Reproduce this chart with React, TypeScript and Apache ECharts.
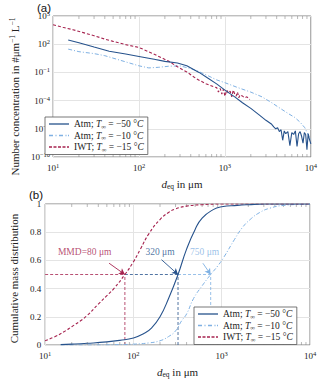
import React, { useEffect, useRef } from 'react';
import * as echarts from 'echarts';

const SERIF = '"Liberation Serif", "DejaVu Serif", serif';
const SANS = '"Liberation Sans", Arial, sans-serif';

const C_A50 = '#26528c';
const C_A10 = '#7fb1e3';
const C_IWT = '#a6234f';

const NAME_A50 = 'Atm; T∞ = −50 °C';
const NAME_A10 = 'Atm; T∞ = −10 °C';
const NAME_IWT = 'IWT; T∞ = −15 °C';

// ---- (a) number concentration ----
const a50D = [15, 20, 30, 45, 70, 100, 150, 200, 280, 360, 500, 630, 800, 1000, 1300, 1600, 2000, 2500, 3000, 3500,
  3700, 3900, 4100, 4300, 4500, 4700, 4900, 5100, 5400, 5700, 6000, 6300, 6600, 6900, 7200, 7500, 7800, 8100, 8400, 8700, 9000, 9300, 9600, 10000];
const a50N = [2.8e2, 1.4e2, 5e1, 1.8e1, 9, 5, 2.5, 1.5, 1.0, 5e-1, 1e-1, 2.5e-2, 6e-3, 1.3e-3, 2.5e-4, 6e-5, 1.5e-5, 3e-6, 8e-7, 3e-7,
  1.6e-7, 1e-7, 1.3e-7, 5e-8, 8e-8, 6e-9, 6e-8, 3e-8, 5e-8, 1.6e-9, 4e-8, 2.5e-8, 6e-8, 1.3e-9, 3e-8, 5e-8, 1.6e-8, 3e-9, 4e-8, 2.5e-8, 6e-10, 3e-8, 8e-9, 2.5e-9];

const a10D = [15, 20, 30, 40, 60, 100, 130, 170, 220, 300, 400, 500, 650, 800, 1000, 1400, 2000, 2700, 3500, 4500, 5500, 6500, 7500, 8500, 10000];
const a10N = [30, 16, 10, 6, 2, 0.5, 0.3, 0.35, 0.45, 0.5, 0.25, 0.12, 4e-2, 1.6e-2, 8e-3, 2.5e-3, 8e-4, 2.5e-4, 6e-5, 1.3e-5, 4e-6, 1.6e-6, 5e-7, 1.3e-7, 6e-9];

const iwtD = [10, 13, 17, 22, 30, 40, 50, 70, 100, 145, 220, 280, 360, 470, 600, 750,
  800, 840, 880, 920, 960, 1000, 1050, 1100, 1150, 1200, 1250, 1300, 1350, 1400, 1450, 1500, 1600, 1700, 1800, 1950];
const iwtN = [1.15e4, 6.3e3, 3.5e3, 1.8e3, 8e2, 3.5e2, 2e2, 9e1, 4.5e1, 1e1, 1.6, 0.4, 0.11, 2e-2, 6.3e-3, 2.8e-3,
  2.5e-3, 8e-4, 2e-3, 5e-4, 1.6e-3, 3e-4, 1.3e-3, 6e-4, 1e-3, 2.5e-4, 1.3e-3, 5e-4, 3e-4, 8e-4, 2e-4, 4e-4, 3e-4, 2e-4, 2.5e-4, 1.3e-4];

// ---- (b) cumulative mass distribution ----
const cA50D = [15, 20, 30, 50, 70, 100, 130, 160, 200, 250, 320, 400, 500, 600, 800, 1000, 1500, 2000, 3000, 10000];
const cA50V = [0.003, 0.006, 0.012, 0.022, 0.033, 0.05, 0.08, 0.12, 0.2, 0.33, 0.5, 0.68, 0.82, 0.9, 0.96, 0.98, 0.99, 0.995, 1.0, 1.0];

const cA10D = [15, 30, 60, 100, 150, 200, 250, 300, 350, 400, 480, 600, 750, 900, 1050, 1400, 1700, 2100, 2700, 3500, 5000, 10000];
const cA10V = [0.0, 0.0, 0.002, 0.006, 0.015, 0.03, 0.06, 0.1, 0.17, 0.22, 0.33, 0.42, 0.5, 0.56, 0.62, 0.75, 0.83, 0.89, 0.94, 0.97, 0.99, 1.0];

const cIwtD = [10, 13, 17, 20, 25, 30, 40, 50, 60, 80, 100, 120, 150, 200, 250, 300, 400, 600, 1000, 2000, 10000];
const cIwtV = [0.03, 0.06, 0.10, 0.13, 0.17, 0.21, 0.29, 0.35, 0.40, 0.50, 0.59, 0.68, 0.79, 0.89, 0.94, 0.965, 0.985, 0.995, 1.0, 1.0, 1.0];

// median markers
const MMD_IWT = 80;
const MMD_A50 = 320;
const MMD_A10 = 750;
const HALF = 0.5;

// annotation anchors (data coords)
const annText = ['MMD=80 μm', '320 μm', '750 μm'];
const annTextD = [28, 200, 640];
const annTextV = [0.66, 0.66, 0.66];
const annArrowD = [53, 208, 612];
const annArrowV = [0.58, 0.605, 0.58];

const MINOR_TICKS = [20, 30, 40, 50, 60, 70, 80, 90, 200, 300, 400, 500, 600, 700, 800, 900, 2000, 3000, 4000, 5000, 6000, 7000, 8000, 9000];

const zip = (a: number[], b: number[]) => a.map((v, i) => [v, b[i]]);

const powLabel = (v: number) => {
  const e = Math.round(Math.log10(v));
  return '{b|10}{s|' + (e < 0 ? '−' + (-e) : String(e)) + '}';
};
const tickRich = {
  b: { fontFamily: SERIF, fontSize: 9, lineHeight: 12, color: '#222' },
  s: { fontFamily: SERIF, fontSize: 6.5, lineHeight: 7, verticalAlign: 'top', color: '#222' },
};
const nameRich = {
  i: { fontFamily: SERIF, fontSize: 11, fontStyle: 'italic', color: '#222', lineHeight: 13 },
  sub: { fontFamily: SERIF, fontSize: 7.5, color: '#222', lineHeight: 8, verticalAlign: 'bottom' },
  s: { fontFamily: SERIF, fontSize: 7.5, color: '#222', lineHeight: 8, verticalAlign: 'top' },
  t: { fontFamily: SERIF, fontSize: 11, color: '#222', lineHeight: 13 },
};
const legendRich = {
  t: { fontFamily: SERIF, fontSize: 9.5, color: '#222', lineHeight: 11 },
  i: { fontFamily: SERIF, fontSize: 9.5, fontStyle: 'italic', color: '#222', lineHeight: 11 },
  sub: { fontFamily: SERIF, fontSize: 6.5, color: '#222', lineHeight: 7, verticalAlign: 'bottom' },
};
const legendFmt = (name: string) => {
  const m = name.match(/^(\w+); T∞ = (−\d+) °C$/);
  if (!m) return name;
  return '{t|' + m[1] + '; }{i|T}{sub|∞}{t| = ' + m[2] + ' °}{i|C}';
};

// legend line icons (solid / dash-dot / dashed)
const ICON_SOLID = 'path://M0,0h20v1.3h-20z';
const ICON_DASHDOT = 'path://M0,0h4v1.3h-4z M6.5,0h1v1.3h-1z M10,0h4v1.3h-4z M16.5,0h1v1.3h-1z M19,0h1v1.3h-1z';
const ICON_DASH = 'path://M0,0h3v1.3h-3z M4.5,0h3v1.3h-3z M9,0h3v1.3h-3z M13.5,0h3v1.3h-3z M18,0h2v1.3h-2z';

const splitLine = { show: true, lineStyle: { color: '#e4e4e4', width: 1 } };

const xAxisBase = (gridIndex: number) => ({
  type: 'log', logBase: 10, min: 10, max: 10000, gridIndex,
  axisLine: { show: false }, axisTick: { show: false },
  splitLine,
  axisLabel: { formatter: powLabel, rich: tickRich, margin: 5 },
  name: '{i|d}{sub|eq}{t| in μm}', nameLocation: 'middle', nameGap: 20,
  nameTextStyle: { rich: nameRich },
});

const minorTickSeries = (gridIndex: number, yRef: number) => ({
  type: 'custom', xAxisIndex: gridIndex, yAxisIndex: gridIndex, silent: true,
  data: MINOR_TICKS.map((v) => [v, yRef]),
  renderItem: (params: any, api: any) => {
    const p = api.coord([api.value(0), yRef]);
    const cs = params.coordSys;
    const st = { stroke: '#8a8a8a', lineWidth: 0.6 };
    return {
      type: 'group', children: [
        { type: 'line', shape: { x1: p[0], y1: cs.y + cs.height, x2: p[0], y2: cs.y + cs.height - 3 }, style: st },
        { type: 'line', shape: { x1: p[0], y1: cs.y, x2: p[0], y2: cs.y + 3 }, style: st },
      ],
    };
  },
});

const lineS = (name: string, data: number[][], color: string, type: any, width: number, idx: number, smooth = false) => ({
  name, type: 'line', data, xAxisIndex: idx, yAxisIndex: idx, symbol: 'none', smooth,
  lineStyle: { color, width, type }, itemStyle: { color },
});

const guide = (data: number[][], color: string) => ({
  type: 'line', data, xAxisIndex: 1, yAxisIndex: 1, symbol: 'none', silent: true,
  lineStyle: { color, width: 0.8, type: [3, 2] }, itemStyle: { color }, z: 1,
});

const annColors = [C_IWT, C_A50, C_A10];

const legendData = [
  { name: NAME_A50, icon: ICON_SOLID },
  { name: NAME_A10, icon: ICON_DASHDOT },
  { name: NAME_IWT, icon: ICON_DASH },
];
const legendBase = {
  data: legendData, orient: 'vertical',
  itemWidth: 20, itemHeight: 1.3, itemGap: 1, padding: [2, 4, 2, 4],
  borderColor: '#555', borderWidth: 0.8, backgroundColor: '#fff',
  formatter: legendFmt, textStyle: { rich: legendRich },
};

const titleStyle = { fontFamily: SANS, fontSize: 11.5, fontWeight: 'normal', color: '#111', lineHeight: 12 };

const option: any = {
  animation: false,
  backgroundColor: '#fff',
  textStyle: { fontFamily: SERIF },
  title: [
    { text: '(a)', left: 37, top: 2, padding: 0, textStyle: titleStyle },
    { text: '(b)', left: 29, top: 189, padding: 0, textStyle: titleStyle },
  ],
  grid: [
    { left: 37, top: 16, width: 275, height: 141, show: true, borderColor: '#808080', borderWidth: 1, backgroundColor: 'transparent' },
    { left: 31, top: 204, width: 279, height: 146, show: true, borderColor: '#808080', borderWidth: 1, backgroundColor: 'transparent' },
  ],
  legend: [
    { ...legendBase, left: 45, top: 117 },
    { ...legendBase, left: 194, top: 307 },
  ],
  xAxis: [xAxisBase(0), xAxisBase(1)],
  yAxis: [
    {
      type: 'log', logBase: 10, min: 1e-10, max: 1e5, interval: 3, gridIndex: 0,
      axisLine: { show: false }, axisTick: { show: false }, splitLine,
      axisLabel: { formatter: powLabel, rich: tickRich, margin: 3 },
      name: '{t|Number concentration in #μm}{s|−1}{t| L}{s|−1}', nameLocation: 'middle', nameGap: 25,
      nameTextStyle: { rich: nameRich, padding: [0, 20, 0, 0] },
    },
    {
      type: 'value', min: 0, max: 1, interval: 0.2, gridIndex: 1,
      axisLine: { show: false }, axisTick: { show: false }, splitLine,
      axisLabel: {
        formatter: (v: number) => (v === 0 ? '0' : v === 1 ? '1' : v.toFixed(1)),
        fontFamily: SERIF, fontSize: 9, color: '#222', margin: 4,
      },
      name: 'Cumulative mass distribution', nameLocation: 'middle', nameGap: 20,
      nameTextStyle: { fontFamily: SERIF, fontSize: 11, color: '#222', padding: [0, 8, 0, 0] },
    },
  ],
  series: [
    minorTickSeries(0, 1),
    minorTickSeries(1, 0.5),
    lineS(NAME_A10, zip(a10D, a10N), C_A10, [4, 2, 1, 2], 1, 0),
    lineS(NAME_IWT, zip(iwtD, iwtN), C_IWT, [3, 2], 1.1, 0),
    lineS(NAME_A50, zip(a50D, a50N), C_A50, 'solid', 1.1, 0),

    guide([[10, HALF], [MMD_IWT, HALF]], C_IWT),
    guide([[MMD_IWT, HALF], [MMD_A50, HALF]], C_A50),
    guide([[MMD_A50, HALF], [MMD_A10, HALF]], C_A10),
    guide([[MMD_IWT, 0], [MMD_IWT, HALF]], C_IWT),
    guide([[MMD_A50, 0], [MMD_A50, HALF]], C_A50),
    guide([[MMD_A10, 0], [MMD_A10, HALF]], C_A10),

    lineS(NAME_A10, zip(cA10D, cA10V), C_A10, [4, 2, 1, 2], 1, 1, true),
    lineS(NAME_IWT, zip(cIwtD, cIwtV), C_IWT, [3, 2], 1.1, 1, true),
    lineS(NAME_A50, zip(cA50D, cA50V), C_A50, 'solid', 1.1, 1, true),

    {
      type: 'line', xAxisIndex: 1, yAxisIndex: 1, data: [], silent: true,
      markLine: {
        silent: true, symbol: ['none', 'arrow'], symbolSize: [5, 6],
        label: { show: false },
        data: annText.map((_, i) => [
          { coord: [annArrowD[i], annArrowV[i]], lineStyle: { color: annColors[i], width: 0.9, type: 'solid' } },
          { coord: [[MMD_IWT, MMD_A50, MMD_A10][i], HALF] },
        ]),
      },
    },
    ...annText.map((t, i) => ({
      type: 'scatter', xAxisIndex: 1, yAxisIndex: 1, silent: true,
      data: [[annTextD[i], annTextV[i]]], symbolSize: 1, itemStyle: { color: 'rgba(0,0,0,0)' },
      label: { show: true, position: 'inside', formatter: t, fontFamily: SERIF, fontSize: 9.5, color: annColors[i] },
    })),
  ],
};

export default function App() {
  const ref = useRef<HTMLDivElement>(null);
  useEffect(() => {
    const chart = echarts.init(ref.current!, null, { renderer: 'svg' });
    chart.setOption(option);
    return () => chart.dispose();
  }, []);
  return <div ref={ref} style={{ position: 'fixed', left: 0, top: 0, width: 320, height: 379 }} />;
}
